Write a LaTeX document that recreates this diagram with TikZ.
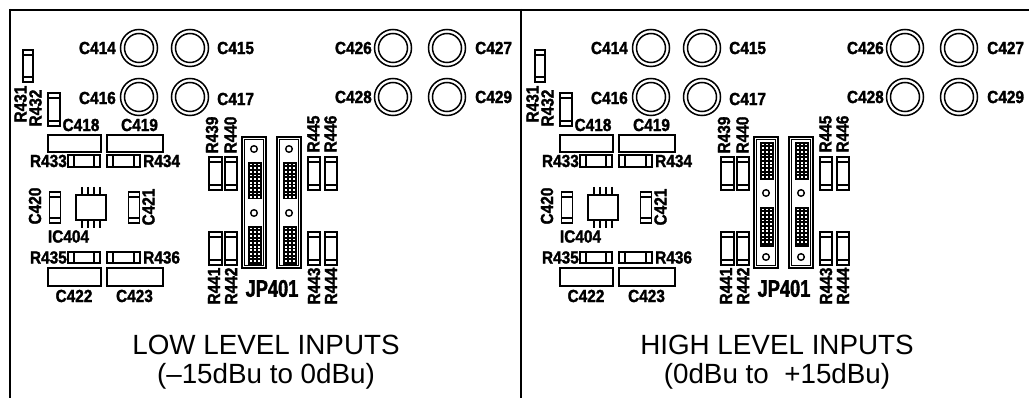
\documentclass[tikz,border=0pt]{standalone}
\usepackage{fontspec}
\setmainfont{Liberation Sans}
\newfontfamily\lblf[FakeStretch=0.88,FakeBold=1.6]{Liberation Sans Bold}
\newfontfamily\jpf[FakeStretch=0.76,FakeBold=1.6]{Liberation Sans Bold}
\tikzset{
 frm/.style={line width=2.2pt},
 part/.style={draw, line width=1.5pt},
 lbl/.style={font=\lblf\fontsize{17.5}{19}\selectfont, inner sep=0pt},
 vlbl/.style={lbl, rotate=90},
 jplbl/.style={font=\jpf\fontsize{24}{26}\selectfont, inner sep=0pt},
 ttl/.style={font=\fontsize{27.8}{30}\selectfont, inner sep=0pt, anchor=base},
}
\newcommand\vres[4]{\draw[part] (#1,#2) rectangle (#3,#4) (#1,#2+5) -- (#3,#2+5) (#1,#4-5) -- (#3,#4-5);}
\newcommand\hres[4]{\draw[part] (#1,#2) rectangle (#3,#4) (#1+6,#2) -- (#1+6,#4) (#3-6,#2) -- (#3-6,#4);}
\newcommand\ecap[2]{\draw[part] (#1,#2) circle[radius=18.5] (#1,#2) circle[radius=14.5];}
\newcommand\pgrid[4]{\fill (#1,#2) rectangle (#3,#4);
 \foreach \i in {0,1,2}{\foreach \j in {0,...,9}{\fill[white] ({#1+1.8+\i*4.0},{#2+1.6+\j*3.65}) rectangle ++(2.0,1.7);}}}
\newcommand\jconn[3]{\draw[line width=1.3pt] (#1,#2) rectangle (#1+24,#3) (#1+2.6,#2+2.6) rectangle (#1+21.4,#3-2.6);}
\newcommand\hole[2]{\draw[line width=1.4pt] (#1,#2) circle[radius=3.3];}
\newcommand\boardpanel[1]{%
 % electrolytic caps
 \ecap{139}{48}\ecap{190}{48}\ecap{139}{97}\ecap{190}{97}
 \ecap{393}{48}\ecap{447}{48}\ecap{393}{97}\ecap{447}{97}
 \node[lbl,anchor=east] (#1c414) at (116,48) {C414};
 \node[lbl,anchor=west] (#1c415) at (217,48) {C415};
 \node[lbl,anchor=east] (#1c416) at (116,98) {C416};
 \node[lbl,anchor=west] (#1c417) at (217,99) {C417};
 \node[lbl,anchor=east] (#1c426) at (372,48) {C426};
 \node[lbl,anchor=west] (#1c427) at (475,48) {C427};
 \node[lbl,anchor=east] (#1c428) at (372,97) {C428};
 \node[lbl,anchor=west] (#1c429) at (475,97) {C429};
 % R431, R432
 \vres{23}{50}{33}{82}
 \vres{48}{93}{60}{126}
 \node[vlbl] (#1r431) at (20.5,104) {R431};
 \node[vlbl] (#1r432) at (35.5,108) {R432};
 % C418, C419
 \draw[part] (48,135) rectangle (101,152);
 \draw[part] (107,135) rectangle (163,152);
 \node[lbl] (#1c418) at (81,125) {C418};
 \node[lbl] (#1c419) at (139.5,125) {C419};
 % R433, R434
 \hres{68}{155}{100}{167}
 \hres{107}{155}{140}{167}
 \node[lbl,anchor=east] (#1r433) at (67,161) {R433};
 \node[lbl,anchor=west] (#1r434) at (143,161) {R434};
 % C420, C421, IC404
 \vres{49.5}{192}{60.5}{223}
 \vres{128.5}{192}{139.5}{223}
 \node[vlbl] (#1c420) at (35,206) {C420};
 \node[vlbl] (#1c421) at (148.5,207) {C421};
 \draw[part] (76,195) rectangle (106,220);
 \foreach \px in {82,88,94,100} \draw[part] (\px,187) -- (\px,195) (\px,220) -- (\px,228);
 \node[lbl] (#1ic404) at (68.5,236.5) {IC404};
 % R435, R436
 \hres{68}{252}{100}{263}
 \hres{107}{252}{140}{263}
 \node[lbl,anchor=east] (#1r435) at (67,257.5) {R435};
 \node[lbl,anchor=west] (#1r436) at (143,257.5) {R436};
 % C422, C423
 \draw[part] (48,268) rectangle (101,286);
 \draw[part] (107,268) rectangle (163,286);
 \node[lbl] (#1c422) at (74,296) {C422};
 \node[lbl] (#1c423) at (134.5,296) {C423};
 % R439-R446
 \vres{209}{157}{222}{190}
 \vres{225}{157}{237}{190}
 \vres{308}{157}{320}{190}
 \vres{325}{157}{337}{190}
 \vres{209}{232}{222}{265}
 \vres{225}{232}{237}{265}
 \vres{308}{232}{320}{265}
 \vres{325}{232}{337}{265}
 \node[vlbl] (#1r439) at (212,135) {R439};
 \node[vlbl] (#1r440) at (230.5,135) {R440};
 \node[vlbl] (#1r445) at (313.5,134) {R445};
 \node[vlbl] (#1r446) at (330.5,134) {R446};
 \node[vlbl] (#1r441) at (214,286) {R441};
 \node[vlbl] (#1r442) at (231,286) {R442};
 \node[vlbl] (#1r443) at (314,286) {R443};
 \node[vlbl] (#1r444) at (331,286) {R444};
 % JP401
 \jconn{242}{137}{268}
 \jconn{277}{137}{268}
 \node[jplbl] (#1jp401) at (272,288.5) {JP401};
}
\begin{document}
\begin{tikzpicture}[x=1pt,y=-1pt]
\useasboundingbox (0,0) rectangle (1029,398);
% frame
\draw[frm] (9,10) -- (1029,10);
\draw[frm] (10,9) -- (10,398);
\draw[frm] (521,9) -- (521,398);
% left panel
\boardpanel{L}
\hole{254}{149}\hole{254}{213}\hole{289}{149}\hole{289}{213}
\pgrid{248}{162}{262}{199}\pgrid{248}{226}{262}{265}
\pgrid{283}{162}{297}{199}\pgrid{283}{226}{297}{265}
\node[ttl] (ltitle1) at (266,354) {LOW LEVEL INPUTS};
\node[ttl] (ltitle2) at (266,383) {(--15dBu to 0dBu)};
% right panel
\begin{scope}[xshift=512pt]
\boardpanel{R}
\pgrid{248}{142}{262}{180}\pgrid{248}{207}{262}{247}
\pgrid{283}{142}{297}{180}\pgrid{283}{207}{297}{247}
\hole{254}{193}\hole{254}{257}\hole{289}{193}\hole{289}{257}
\end{scope}
\node[ttl] (rtitle1) at (777,354) {HIGH LEVEL INPUTS};
\node[ttl] (rtitle2) at (777,383) {(0dBu to\ \ +15dBu)};
\end{tikzpicture}
\end{document}
